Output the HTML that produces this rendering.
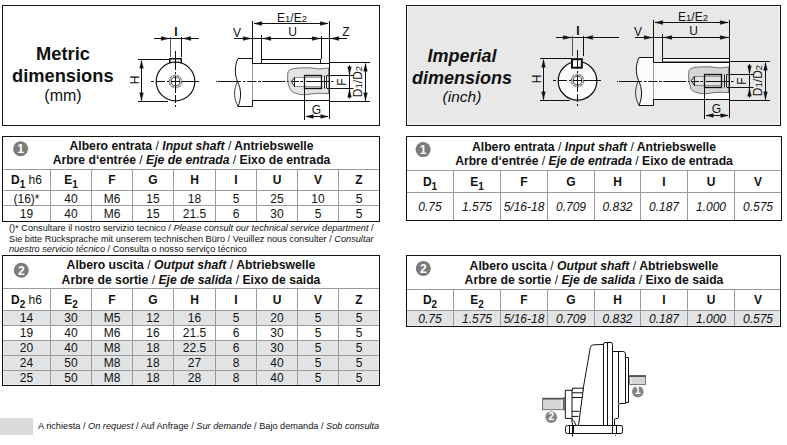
<!DOCTYPE html>
<html><head><meta charset="utf-8"><style>
html,body{margin:0;padding:0;background:#fff;}
body{width:787px;height:445px;position:relative;overflow:hidden;font-family:"Liberation Sans",sans-serif;}
.t{position:absolute;white-space:nowrap;line-height:20px;}
sub{font-size:10px;vertical-align:-4px;line-height:0;}
</style></head><body>
<div style='position:absolute;left:2px;top:5px;width:378px;height:121px;border:1px solid #141414;background:#fff;box-sizing:border-box'></div><div style='position:absolute;left:406px;top:5px;width:375px;height:121px;border:1px solid #141414;background:#e8e8e8;box-sizing:border-box;box-shadow:inset 0 0 0 1px #f4f4f4'></div>
<svg style="position:absolute;left:0;top:0" width="787" height="445" viewBox="0 0 787 445">
<line x1='170.5' y1='37' x2='170.5' y2='57' stroke='#555' stroke-width='1' /><line x1='181.5' y1='37' x2='181.5' y2='57' stroke='#111' stroke-width='1' /><line x1='154' y1='38.5' x2='199' y2='38.5' stroke='#111' stroke-width='1' /><path d='M169.2,38.5 L161.2,36.6 L161.2,40.4 Z' fill='#111' stroke='#111' stroke-width='0.3'/><path d='M182.8,38.5 L190.8,36.6 L190.8,40.4 Z' fill='#111' stroke='#111' stroke-width='0.3'/><line x1='138' y1='59.5' x2='170' y2='59.5' stroke='#111' stroke-width='1' /><line x1='138' y1='101.5' x2='168' y2='101.5' stroke='#111' stroke-width='1' /><line x1='141.5' y1='61' x2='141.5' y2='100.5' stroke='#111' stroke-width='1' /><path d='M141.5,60.3 L139.6,68.3 L143.4,68.3 Z' fill='#111' stroke='#111' stroke-width='0.3'/><path d='M141.5,100.7 L139.6,92.7 L143.4,92.7 Z' fill='#111' stroke='#111' stroke-width='0.3'/><circle cx='175.5' cy='81.5' r='19.3' fill='#fff' stroke='#111' stroke-width='1.2' /><path d='M169.75 63.3 L169.75 58.75 L181.25 58.75 L181.25 63.3' fill='none' stroke='#111' stroke-width='1.5' /><circle cx='175.5' cy='81.5' r='6.2' fill='none' stroke='#8a8a8a' stroke-width='1.5' stroke-dasharray='3,0.7'/><circle cx='175.5' cy='81.5' r='4.5' fill='none' stroke='#222' stroke-width='0.9' /><line x1='151' y1='81.5' x2='199' y2='81.5' stroke='#111' stroke-width='1' stroke-dasharray='3,2,9,2,2,2,9,1.5,30'/><line x1='175.5' y1='51' x2='175.5' y2='107' stroke='#111' stroke-width='1' stroke-dasharray='19,2,2,2,17,2,8,2,3'/><path d='M252.5 58.5 L238 58.5 C234.5 66 234.5 74 237.5 81.5 C241.5 90 241.5 98 238 106.5 L252.5 106.5 Z' fill='#ffffff' stroke='#111' stroke-width='1' /><path d='M237.5 81.5 C233.5 90 233.5 98 238 106.5' fill='none' stroke='#111' stroke-width='0.8' /><rect x='252.5' y='63.5' width='77.0' height='37' fill='#ffffff' stroke='none' stroke-width='1' /><line x1='252.5' y1='63.5' x2='329.5' y2='63.5' stroke='#111' stroke-width='1' /><line x1='252.5' y1='100.5' x2='329.5' y2='100.5' stroke='#111' stroke-width='1' /><line x1='252.5' y1='64' x2='252.5' y2='100' stroke='#999' stroke-width='1' /><rect x='261.5' y='59.5' width='59.0' height='4' fill='#ffffff' stroke='#111' stroke-width='1' /><path d='M288 71.5 C291 67.5 300 68 307 67.8 C313 67.5 318 69.5 322 68.8 C325 68.3 328 68 329 68 L329 93.5 C322 93.5 318 93 312 93.8 C306 95 302 95.2 297.5 93.8 C293 92.5 290 91 289.3 87 C287.5 83 287.3 77 288 71.5 Z' fill='#e4e4e4' stroke='#444' stroke-width='0.75' /><path d='M304.5 77.5 L294.5 77.5 L291.5 81.5 L294.5 86.5 L304.5 86.5 Z' fill='#ffffff' stroke='none' stroke-width='1' /><line x1='294.5' y1='77.5' x2='304.5' y2='77.5' stroke='#777' stroke-width='0.8' /><line x1='294.5' y1='86.5' x2='304.5' y2='86.5' stroke='#777' stroke-width='0.8' /><path d='M294.5 77.5 L291.3 81.5 L294.5 86.5 M294.5 77.2 L294.5 86.8' fill='none' stroke='#111' stroke-width='0.9' /><rect x='304.5' y='75.5' width='24.5' height='13' fill='#e4e4e4' stroke='none' stroke-width='1' /><rect x='304.5' y='77.5' width='24.5' height='9' fill='#ffffff' stroke='none' stroke-width='1' /><line x1='304.5' y1='77.3' x2='321.5' y2='77.3' stroke='#666' stroke-width='0.7' /><line x1='304.5' y1='86.7' x2='321.5' y2='86.7' stroke='#666' stroke-width='0.7' /><rect x='304.5' y='75.5' width='17.0' height='13' fill='none' stroke='#111' stroke-width='1.3' /><line x1='324.5' y1='75.5' x2='324.5' y2='88.5' stroke='#222' stroke-width='1' /><line x1='326.5' y1='75.5' x2='326.5' y2='88.5' stroke='#222' stroke-width='1' /><line x1='329.2' y1='68' x2='329.2' y2='93.5' stroke='#666' stroke-width='1.6' /><line x1='329.5' y1='21' x2='329.5' y2='119' stroke='#111' stroke-width='1' /><line x1='216' y1='81.5' x2='217' y2='81.5' stroke='#111' stroke-width='1' /><line x1='218' y1='81.5' x2='241' y2='81.5' stroke='#111' stroke-width='1' /><line x1='243' y1='81.5' x2='245.5' y2='81.5' stroke='#111' stroke-width='1' /><line x1='247.3' y1='81.5' x2='256.5' y2='81.5' stroke='#111' stroke-width='1' /><line x1='258' y1='81.5' x2='261' y2='81.5' stroke='#111' stroke-width='1' /><line x1='262.3' y1='81.5' x2='285.3' y2='81.5' stroke='#111' stroke-width='1' /><line x1='287' y1='81.5' x2='288.5' y2='81.5' stroke='#111' stroke-width='1' /><line x1='291.5' y1='81.5' x2='299' y2='81.5' stroke='#111' stroke-width='1' /><line x1='300.2' y1='81.5' x2='303' y2='81.5' stroke='#111' stroke-width='1' /><line x1='306' y1='81.5' x2='329' y2='81.5' stroke='#111' stroke-width='1' /><line x1='331' y1='81.5' x2='333.5' y2='81.5' stroke='#111' stroke-width='1' /><line x1='252.5' y1='21' x2='252.5' y2='63' stroke='#111' stroke-width='1' /><line x1='254' y1='23.5' x2='328.2' y2='23.5' stroke='#111' stroke-width='1' /><path d='M253.8,23.5 L261.8,21.6 L261.8,25.4 Z' fill='#111' stroke='#111' stroke-width='0.3'/><path d='M328.2,23.5 L320.2,21.6 L320.2,25.4 Z' fill='#111' stroke='#111' stroke-width='0.3'/><line x1='261.5' y1='35' x2='261.5' y2='63' stroke='#111' stroke-width='1' /><line x1='321.5' y1='36' x2='321.5' y2='59' stroke='#111' stroke-width='1' /><line x1='234' y1='38.5' x2='347' y2='38.5' stroke='#111' stroke-width='1' /><path d='M262.8,38.5 L270.8,36.6 L270.8,40.4 Z' fill='#111' stroke='#111' stroke-width='0.3'/><path d='M320.2,38.5 L312.2,36.6 L312.2,40.4 Z' fill='#111' stroke='#111' stroke-width='0.3'/><path d='M251.2,38.5 L243.2,36.6 L243.2,40.4 Z' fill='#111' stroke='#111' stroke-width='0.3'/><path d='M330.8,38.5 L338.8,36.6 L338.8,40.4 Z' fill='#111' stroke='#111' stroke-width='0.3'/><line x1='327' y1='75.5' x2='353.5' y2='75.5' stroke='#111' stroke-width='1' /><line x1='327' y1='88.5' x2='353.5' y2='88.5' stroke='#111' stroke-width='1' /><line x1='349.5' y1='65' x2='349.5' y2='98.5' stroke='#111' stroke-width='1' /><path d='M349.5,74.7 L347.6,66.7 L351.4,66.7 Z' fill='#111' stroke='#111' stroke-width='0.3'/><path d='M349.5,89.3 L347.6,97.3 L351.4,97.3 Z' fill='#111' stroke='#111' stroke-width='0.3'/><line x1='330' y1='62.5' x2='370' y2='62.5' stroke='#111' stroke-width='1' /><line x1='330' y1='101.5' x2='370' y2='101.5' stroke='#111' stroke-width='1' /><line x1='365.5' y1='64' x2='365.5' y2='100.5' stroke='#111' stroke-width='1' /><path d='M365.5,63.3 L363.6,71.3 L367.4,71.3 Z' fill='#111' stroke='#111' stroke-width='0.3'/><path d='M365.5,100.7 L363.6,92.7 L367.4,92.7 Z' fill='#111' stroke='#111' stroke-width='0.3'/><line x1='304.5' y1='88' x2='304.5' y2='120' stroke='#111' stroke-width='1' /><line x1='306' y1='116.5' x2='328' y2='116.5' stroke='#111' stroke-width='1' /><path d='M305.8,116.5 L313.3,114.6 L313.3,118.4 Z' fill='#111' stroke='#111' stroke-width='0.3'/><path d='M328.2,116.5 L320.7,114.6 L320.7,118.4 Z' fill='#111' stroke='#111' stroke-width='0.3'/><line x1='572.5' y1='36' x2='572.5' y2='56' stroke='#555' stroke-width='1' /><line x1='583.5' y1='36' x2='583.5' y2='56' stroke='#111' stroke-width='1' /><line x1='556' y1='37.5' x2='619' y2='37.5' stroke='#111' stroke-width='1' /><path d='M571.2,37.5 L563.2,35.6 L563.2,39.4 Z' fill='#111' stroke='#111' stroke-width='0.3'/><path d='M584.8,37.5 L592.8,35.6 L592.8,39.4 Z' fill='#111' stroke='#111' stroke-width='0.3'/><line x1='540' y1='58.5' x2='572' y2='58.5' stroke='#111' stroke-width='1' /><line x1='540' y1='100.5' x2='570' y2='100.5' stroke='#111' stroke-width='1' /><line x1='543.5' y1='60' x2='543.5' y2='99.5' stroke='#111' stroke-width='1' /><path d='M543.5,59.3 L541.6,67.3 L545.4,67.3 Z' fill='#111' stroke='#111' stroke-width='0.3'/><path d='M543.5,99.7 L541.6,91.7 L545.4,91.7 Z' fill='#111' stroke='#111' stroke-width='0.3'/><circle cx='577.5' cy='80.9' r='19.3' fill='#fcfcfc' stroke='#111' stroke-width='1.2' /><rect x='572' y='59.2' width='9.8' height='8.5' fill='#fcfcfc' stroke='#111' stroke-width='2' /><line x1='577.5' y1='59' x2='577.5' y2='68' stroke='#111' stroke-width='1' /><circle cx='577.5' cy='80.5' r='6.2' fill='none' stroke='#8a8a8a' stroke-width='1.5' stroke-dasharray='3,0.7'/><circle cx='577.5' cy='80.5' r='4.5' fill='none' stroke='#222' stroke-width='0.9' /><line x1='553' y1='80.5' x2='601' y2='80.5' stroke='#111' stroke-width='1' stroke-dasharray='3,2,9,2,2,2,9,1.5,30'/><line x1='577.5' y1='50' x2='577.5' y2='106' stroke='#111' stroke-width='1' stroke-dasharray='19,2,2,2,17,2,8,2,3'/><path d='M653.5 57.5 L639 57.5 C635.5 65 635.5 73 638.5 80.5 C642.5 89 642.5 97 639 105.5 L653.5 105.5 Z' fill='#fcfcfc' stroke='#111' stroke-width='1' /><path d='M638.5 80.5 C634.5 89 634.5 97 639 105.5' fill='none' stroke='#111' stroke-width='0.8' /><rect x='653.5' y='62.5' width='76.0' height='37' fill='#fcfcfc' stroke='none' stroke-width='1' /><line x1='653.5' y1='62.5' x2='729.5' y2='62.5' stroke='#111' stroke-width='1' /><line x1='653.5' y1='99.5' x2='729.5' y2='99.5' stroke='#111' stroke-width='1' /><line x1='653.5' y1='63' x2='653.5' y2='99' stroke='#999' stroke-width='1' /><rect x='653.5' y='36' width='9.0' height='22' fill='#f0f0f0' stroke='none' stroke-width='1' /><rect x='662.5' y='58.5' width='67.0' height='3.5' fill='#fcfcfc' stroke='#111' stroke-width='1' /><path d='M689 70.5 C691 66.5 700 67 707 66.8 C713 66.5 718 68.5 722 67.8 C725 67.3 728 67 729 67 L729 92.5 C722 92.5 718 92 712 92.8 C706 94 702 94.2 697.5 92.8 C693 91.5 690 90 690.3 86 C688.5 82 688.3 76 689 70.5 Z' fill='#d6d6d6' stroke='#444' stroke-width='0.75' /><path d='M704.5 76.5 L694.5 76.5 L691.5 80.5 L694.5 85.5 L704.5 85.5 Z' fill='#e2e2e2' stroke='none' stroke-width='1' /><line x1='694.5' y1='76.5' x2='704.5' y2='76.5' stroke='#777' stroke-width='0.8' /><line x1='694.5' y1='85.5' x2='704.5' y2='85.5' stroke='#777' stroke-width='0.8' /><path d='M694.5 76.5 L691.3 80.5 L694.5 85.5 M694.5 76.2 L694.5 85.8' fill='none' stroke='#111' stroke-width='0.9' /><rect x='704.5' y='74.5' width='24.5' height='13' fill='#d6d6d6' stroke='none' stroke-width='1' /><rect x='704.5' y='76.5' width='24.5' height='9' fill='#e2e2e2' stroke='none' stroke-width='1' /><line x1='704.5' y1='76.3' x2='721.5' y2='76.3' stroke='#666' stroke-width='0.7' /><line x1='704.5' y1='85.7' x2='721.5' y2='85.7' stroke='#666' stroke-width='0.7' /><rect x='704.5' y='74.5' width='17.0' height='13' fill='none' stroke='#111' stroke-width='1.3' /><line x1='724.5' y1='74.5' x2='724.5' y2='87.5' stroke='#222' stroke-width='1' /><line x1='726.5' y1='74.5' x2='726.5' y2='87.5' stroke='#222' stroke-width='1' /><line x1='729.2' y1='67' x2='729.2' y2='92.5' stroke='#666' stroke-width='1.6' /><line x1='729.5' y1='20' x2='729.5' y2='118' stroke='#111' stroke-width='1' /><line x1='617' y1='81.5' x2='618' y2='81.5' stroke='#111' stroke-width='1' /><line x1='619' y1='81.5' x2='642' y2='81.5' stroke='#111' stroke-width='1' /><line x1='644' y1='81.5' x2='646.5' y2='81.5' stroke='#111' stroke-width='1' /><line x1='648.3' y1='81.5' x2='657.5' y2='81.5' stroke='#111' stroke-width='1' /><line x1='659' y1='81.5' x2='662' y2='81.5' stroke='#111' stroke-width='1' /><line x1='663.3' y1='81.5' x2='686.3' y2='81.5' stroke='#111' stroke-width='1' /><line x1='688' y1='81.5' x2='689.5' y2='81.5' stroke='#111' stroke-width='1' /><line x1='691.5' y1='81.5' x2='699' y2='81.5' stroke='#111' stroke-width='1' /><line x1='700.2' y1='81.5' x2='703' y2='81.5' stroke='#111' stroke-width='1' /><line x1='706' y1='81.5' x2='729' y2='81.5' stroke='#111' stroke-width='1' /><line x1='731' y1='81.5' x2='733.5' y2='81.5' stroke='#111' stroke-width='1' /><line x1='653.5' y1='20' x2='653.5' y2='62' stroke='#111' stroke-width='1' /><line x1='655' y1='22.5' x2='728.2' y2='22.5' stroke='#111' stroke-width='1' /><path d='M654.8,22.5 L662.8,20.6 L662.8,24.4 Z' fill='#111' stroke='#111' stroke-width='0.3'/><path d='M728.2,22.5 L720.2,20.6 L720.2,24.4 Z' fill='#111' stroke='#111' stroke-width='0.3'/><line x1='662.5' y1='34' x2='662.5' y2='62' stroke='#111' stroke-width='1' /><line x1='635' y1='37.5' x2='729.5' y2='37.5' stroke='#111' stroke-width='1' /><path d='M663.8,37.5 L671.8,35.6 L671.8,39.4 Z' fill='#111' stroke='#111' stroke-width='0.3'/><path d='M728.2,37.5 L720.2,35.6 L720.2,39.4 Z' fill='#111' stroke='#111' stroke-width='0.3'/><path d='M652.2,37.5 L644.2,35.6 L644.2,39.4 Z' fill='#111' stroke='#111' stroke-width='0.3'/><line x1='727' y1='74.5' x2='753.5' y2='74.5' stroke='#111' stroke-width='1' /><line x1='727' y1='87.5' x2='753.5' y2='87.5' stroke='#111' stroke-width='1' /><line x1='749.5' y1='64' x2='749.5' y2='97.5' stroke='#111' stroke-width='1' /><path d='M749.5,73.7 L747.6,65.7 L751.4,65.7 Z' fill='#111' stroke='#111' stroke-width='0.3'/><path d='M749.5,88.3 L747.6,96.3 L751.4,96.3 Z' fill='#111' stroke='#111' stroke-width='0.3'/><line x1='730' y1='61.5' x2='770' y2='61.5' stroke='#111' stroke-width='1' /><line x1='730' y1='100.5' x2='770' y2='100.5' stroke='#111' stroke-width='1' /><line x1='765.5' y1='63' x2='765.5' y2='99.5' stroke='#111' stroke-width='1' /><path d='M765.5,62.3 L763.6,70.3 L767.4,70.3 Z' fill='#111' stroke='#111' stroke-width='0.3'/><path d='M765.5,99.7 L763.6,91.7 L767.4,91.7 Z' fill='#111' stroke='#111' stroke-width='0.3'/><line x1='704.5' y1='87' x2='704.5' y2='119' stroke='#111' stroke-width='1' /><line x1='706' y1='115.5' x2='728' y2='115.5' stroke='#111' stroke-width='1' /><path d='M705.8,115.5 L713.3,113.6 L713.3,117.4 Z' fill='#111' stroke='#111' stroke-width='0.3'/><path d='M728.2,115.5 L720.7,113.6 L720.7,117.4 Z' fill='#111' stroke='#111' stroke-width='0.3'/><line x1='2' y1='169.5' x2='380' y2='169.5' stroke='#9a9a9a' stroke-width='1' /><line x1='2' y1='190.5' x2='380' y2='190.5' stroke='#9a9a9a' stroke-width='1' /><line x1='2' y1='205.5' x2='380' y2='205.5' stroke='#9a9a9a' stroke-width='1' /><line x1='50.5' y1='169' x2='50.5' y2='222' stroke='#9a9a9a' stroke-width='1' /><line x1='91.5' y1='169' x2='91.5' y2='222' stroke='#9a9a9a' stroke-width='1' /><line x1='132.5' y1='169' x2='132.5' y2='222' stroke='#9a9a9a' stroke-width='1' /><line x1='173.5' y1='169' x2='173.5' y2='222' stroke='#9a9a9a' stroke-width='1' /><line x1='215.5' y1='169' x2='215.5' y2='222' stroke='#9a9a9a' stroke-width='1' /><line x1='256.5' y1='169' x2='256.5' y2='222' stroke='#9a9a9a' stroke-width='1' /><line x1='297.5' y1='169' x2='297.5' y2='222' stroke='#9a9a9a' stroke-width='1' /><line x1='338.5' y1='169' x2='338.5' y2='222' stroke='#9a9a9a' stroke-width='1' /><rect x='2.5' y='136.5' width='377' height='85' fill='none' stroke='#111' stroke-width='1' /><circle cx='20.6' cy='148.7' r='7.5' fill='#7b7b7b' stroke='none' stroke-width='1' /><rect x='3' y='311' width='376' height='14' fill='#e2e3e5' stroke='none' stroke-width='1' /><rect x='3' y='311' width='1' height='14' fill='#ececed' stroke='none' stroke-width='1' /><rect x='378' y='311' width='1' height='14' fill='#ececed' stroke='none' stroke-width='1' /><rect x='3' y='341' width='376' height='44' fill='#e2e3e5' stroke='none' stroke-width='1' /><rect x='3' y='341' width='1' height='44' fill='#ececed' stroke='none' stroke-width='1' /><rect x='378' y='341' width='1' height='44' fill='#ececed' stroke='none' stroke-width='1' /><rect x='3' y='384' width='376' height='1' fill='#ececed' stroke='none' stroke-width='1' /><line x1='2' y1='288.5' x2='380' y2='288.5' stroke='#9a9a9a' stroke-width='1' /><line x1='2' y1='310.5' x2='380' y2='310.5' stroke='#9a9a9a' stroke-width='1' /><line x1='2' y1='325.5' x2='380' y2='325.5' stroke='#9a9a9a' stroke-width='1' /><line x1='2' y1='340.5' x2='380' y2='340.5' stroke='#9a9a9a' stroke-width='1' /><line x1='2' y1='355.5' x2='380' y2='355.5' stroke='#9a9a9a' stroke-width='1' /><line x1='2' y1='370.5' x2='380' y2='370.5' stroke='#9a9a9a' stroke-width='1' /><line x1='50.5' y1='288' x2='50.5' y2='386' stroke='#9a9a9a' stroke-width='1' /><line x1='91.5' y1='288' x2='91.5' y2='386' stroke='#9a9a9a' stroke-width='1' /><line x1='132.5' y1='288' x2='132.5' y2='386' stroke='#9a9a9a' stroke-width='1' /><line x1='173.5' y1='288' x2='173.5' y2='386' stroke='#9a9a9a' stroke-width='1' /><line x1='215.5' y1='288' x2='215.5' y2='386' stroke='#9a9a9a' stroke-width='1' /><line x1='256.5' y1='288' x2='256.5' y2='386' stroke='#9a9a9a' stroke-width='1' /><line x1='297.5' y1='288' x2='297.5' y2='386' stroke='#9a9a9a' stroke-width='1' /><line x1='338.5' y1='288' x2='338.5' y2='386' stroke='#9a9a9a' stroke-width='1' /><rect x='2.5' y='255.5' width='377' height='130' fill='none' stroke='#111' stroke-width='1' /><circle cx='21.3' cy='270.2' r='7.5' fill='#7b7b7b' stroke='none' stroke-width='1' /><rect x='0' y='418' width='33' height='17' fill='#d9d9d9' stroke='none' stroke-width='1' /><line x1='406' y1='170.5' x2='782' y2='170.5' stroke='#9a9a9a' stroke-width='1' /><line x1='406' y1='192.5' x2='782' y2='192.5' stroke='#9a9a9a' stroke-width='1' /><line x1='453.5' y1='170' x2='453.5' y2='221' stroke='#9a9a9a' stroke-width='1' /><line x1='500.5' y1='170' x2='500.5' y2='221' stroke='#9a9a9a' stroke-width='1' /><line x1='547.5' y1='170' x2='547.5' y2='221' stroke='#9a9a9a' stroke-width='1' /><line x1='594.5' y1='170' x2='594.5' y2='221' stroke='#9a9a9a' stroke-width='1' /><line x1='640.5' y1='170' x2='640.5' y2='221' stroke='#9a9a9a' stroke-width='1' /><line x1='687.5' y1='170' x2='687.5' y2='221' stroke='#9a9a9a' stroke-width='1' /><line x1='734.5' y1='170' x2='734.5' y2='221' stroke='#9a9a9a' stroke-width='1' /><rect x='406.5' y='136.5' width='375' height='84' fill='none' stroke='#111' stroke-width='1' /><circle cx='423.1' cy='149.6' r='7.5' fill='#7b7b7b' stroke='none' stroke-width='1' /><rect x='407' y='311' width='373' height='15' fill='#e2e3e5' stroke='none' stroke-width='1' /><rect x='407' y='311' width='1' height='15' fill='#ececed' stroke='none' stroke-width='1' /><rect x='779' y='311' width='1' height='15' fill='#ececed' stroke='none' stroke-width='1' /><rect x='407' y='325' width='373' height='1' fill='#ececed' stroke='none' stroke-width='1' /><line x1='406' y1='289.5' x2='781' y2='289.5' stroke='#9a9a9a' stroke-width='1' /><line x1='406' y1='310.5' x2='781' y2='310.5' stroke='#9a9a9a' stroke-width='1' /><line x1='453.5' y1='289' x2='453.5' y2='327' stroke='#9a9a9a' stroke-width='1' /><line x1='500.5' y1='289' x2='500.5' y2='327' stroke='#9a9a9a' stroke-width='1' /><line x1='547.5' y1='289' x2='547.5' y2='327' stroke='#9a9a9a' stroke-width='1' /><line x1='594.5' y1='289' x2='594.5' y2='327' stroke='#9a9a9a' stroke-width='1' /><line x1='640.5' y1='289' x2='640.5' y2='327' stroke='#9a9a9a' stroke-width='1' /><line x1='687.5' y1='289' x2='687.5' y2='327' stroke='#9a9a9a' stroke-width='1' /><line x1='734.5' y1='289' x2='734.5' y2='327' stroke='#9a9a9a' stroke-width='1' /><rect x='406.5' y='255.5' width='374' height='71' fill='none' stroke='#111' stroke-width='1' /><circle cx='423.3' cy='268.4' r='7.5' fill='#7b7b7b' stroke='none' stroke-width='1' /><rect x='629.5' y='375.5' width='16' height='9' fill='#d4d4d4' stroke='#6a6a6a' stroke-width='0.9' /><line x1='629.5' y1='376.2' x2='645.5' y2='376.2' stroke='#555' stroke-width='1.6' /><rect x='629.9' y='377' width='1.4' height='7' fill='#f0f0f0' stroke='none' stroke-width='1' /><path d='M603.5 344.5 L593.2 344.8 Q590.8 345.3 590.3 347.6 L576.8 425.5 L603.5 425.5 Z' fill='#fff' stroke='#111' stroke-width='1' /><path d='M603.5 425.5 L603.5 344 Q603.7 342.5 605.2 342.5 L611.2 342.5 Q612.5 342.7 612.5 344.2 L612.5 425.5' fill='#fff' stroke='#111' stroke-width='1' /><line x1='607.5' y1='342.5' x2='607.5' y2='425.5' stroke='#111' stroke-width='1' /><path d='M612.5 351.5 L623.2 351.5 Q625.5 351.6 625.5 354.2 L625.5 357.5 L628.5 357.5 L628.5 402.5 L625.5 402.5 L625.5 403.5 L619.8 403.5 Q618.5 403.6 618.5 405 L618.5 417.6 Q618.4 418.5 617 418.5 L615.6 418.5 Q614.5 418.7 614.5 420 L614.5 425.5 L612.5 425.5 Z' fill='#fff' stroke='#111' stroke-width='1' /><line x1='618.5' y1='351.5' x2='618.5' y2='403.5' stroke='#111' stroke-width='1' /><line x1='625.5' y1='357.5' x2='625.5' y2='402.5' stroke='#111' stroke-width='1' /><path d='M583.4 388.2 L572.4 388.2 L572.4 390.3 L565.3 390.3 L565.3 418.4 L571.6 418.4 Q573.5 420.5 574.5 422 L576.2 425.5 L578.5 425.5 Z' fill='#fff' stroke='#111' stroke-width='1' /><line x1='572.0' y1='390.3' x2='572.0' y2='423' stroke='#111' stroke-width='1' /><line x1='572.0' y1='392.8' x2='582.6' y2='392.8' stroke='#111' stroke-width='1' /><line x1='572.0' y1='397.5' x2='581.8' y2='397.5' stroke='#111' stroke-width='1' /><line x1='572.0' y1='411.3' x2='579.4' y2='411.3' stroke='#111' stroke-width='1' /><line x1='572.0' y1='416.4' x2='578.5' y2='416.4' stroke='#111' stroke-width='1' /><rect x='542.5' y='398.2' width='20.5' height='11.5' fill='#d6d6d6' stroke='#6a6a6a' stroke-width='0.9' /><line x1='543' y1='398.8' x2='563' y2='398.8' stroke='#555' stroke-width='1.6' /><rect x='561.2' y='399.5' width='1.6' height='9.6' fill='#eeeeee' stroke='none' stroke-width='1' /><rect x='563.2' y='397' width='1.4' height='13.3' fill='#444' stroke='none' stroke-width='1' /><path d='M567.5 425.5 L621 425.5 Q622.5 425.5 622.5 427.5 L622.5 431.5 Q622.5 433.5 621 433.5 L567.5 433.5 Q565.5 433.5 565.5 431.5 L565.5 427.5 Q565.5 425.5 567.5 425.5 Z' fill='#fff' stroke='#111' stroke-width='1' /><line x1='569.5' y1='425.5' x2='569.5' y2='433.5' stroke='#111' stroke-width='1' /><line x1='573.5' y1='425.5' x2='573.5' y2='433.5' stroke='#111' stroke-width='1' /><line x1='612.5' y1='425.5' x2='612.5' y2='433.5' stroke='#111' stroke-width='1' /><line x1='616.5' y1='425.5' x2='616.5' y2='433.5' stroke='#111' stroke-width='1' /><line x1='572.5' y1='423' x2='572.5' y2='436.6' stroke='#111' stroke-width='1' /><rect x='615' y='435' width='1' height='1' fill='#333' stroke='none' stroke-width='1' /><circle cx='637.8' cy='391.7' r='5.8' fill='#858585' stroke='none' stroke-width='1' /><circle cx='551.2' cy='417.1' r='5.9' fill='#858585' stroke='none' stroke-width='1' />
</svg>
<div class='t' style='left:-137px;width:400px;text-align:center;top:44px;font-size:18.3px;font-weight:bold;font-style:normal;color:#111;'>Metric</div><div class='t' style='left:-137.2px;width:400px;text-align:center;top:66px;font-size:18.3px;font-weight:bold;font-style:normal;color:#111;'>dimensions</div><div class='t' style='left:-137px;width:400px;text-align:center;top:86px;font-size:16px;font-weight:normal;font-style:normal;color:#111;'>(mm)</div><div class='t' style='left:262px;width:400px;text-align:center;top:46px;font-size:18px;font-weight:bold;font-style:italic;color:#111;'>Imperial</div><div class='t' style='left:262px;width:400px;text-align:center;top:68px;font-size:18px;font-weight:bold;font-style:italic;color:#111;'>dimensions</div><div class='t' style='left:262px;width:400px;text-align:center;top:87px;font-size:15.5px;font-weight:normal;font-style:italic;color:#111;'>(inch)</div><div class='t' style='left:-24.19999999999999px;width:400px;text-align:center;top:22px;font-size:12px;font-weight:bold;font-style:normal;color:#111;'>I</div><div class='t' style='left:115.30000000000001px;width:40px;text-align:center;top:69.5px;font-size:12px;line-height:20px;transform:rotate(-90deg);color:#111'>H</div><div class='t' style='left:277px;top:8px;font-size:12px;color:#111'>E<span style='font-size:9.5px'>1</span>/E<span style='font-size:9.5px'>2</span></div><div class='t' style='left:92.60000000000002px;width:400px;text-align:center;top:22px;font-size:12px;font-weight:normal;font-style:normal;color:#111;'>U</div><div class='t' style='left:37px;width:400px;text-align:center;top:22.5px;font-size:12px;font-weight:normal;font-style:normal;color:#111;'>V</div><div class='t' style='left:146px;width:400px;text-align:center;top:22px;font-size:12px;font-weight:normal;font-style:normal;color:#111;'>Z</div><div class='t' style='left:322.2px;width:40px;text-align:center;top:71.5px;font-size:12px;line-height:20px;transform:rotate(-90deg);color:#111'>F</div><div class='t' style='left:327.6px;width:60px;text-align:center;top:71.2px;font-size:12px;line-height:20px;transform:rotate(-90deg);color:#111'>D<span style='font-size:9.5px'>1</span>/D<span style='font-size:9.5px'>2</span></div><div class='t' style='left:116.5px;width:400px;text-align:center;top:100px;font-size:12px;font-weight:normal;font-style:normal;color:#111;'>G</div><div class='t' style='left:377.79999999999995px;width:400px;text-align:center;top:21px;font-size:12px;font-weight:bold;font-style:normal;color:#111;'>I</div><div class='t' style='left:517.3px;width:40px;text-align:center;top:68.5px;font-size:12px;line-height:20px;transform:rotate(-90deg);color:#111'>H</div><div class='t' style='left:678px;top:7px;font-size:12px;color:#111'>E<span style='font-size:9.5px'>1</span>/E<span style='font-size:9.5px'>2</span></div><div class='t' style='left:493.5px;width:400px;text-align:center;top:21px;font-size:12px;font-weight:normal;font-style:normal;color:#111;'>U</div><div class='t' style='left:438px;width:400px;text-align:center;top:21.5px;font-size:12px;font-weight:normal;font-style:normal;color:#111;'>V</div><div class='t' style='left:722.2px;width:40px;text-align:center;top:70.5px;font-size:12px;line-height:20px;transform:rotate(-90deg);color:#111'>F</div><div class='t' style='left:727.6px;width:60px;text-align:center;top:70.2px;font-size:12px;line-height:20px;transform:rotate(-90deg);color:#111'>D<span style='font-size:9.5px'>1</span>/D<span style='font-size:9.5px'>2</span></div><div class='t' style='left:516.5px;width:400px;text-align:center;top:99px;font-size:12px;font-weight:normal;font-style:normal;color:#111;'>G</div><div class='t' style='left:10.600000000000001px;width:20px;text-align:center;top:139.0px;font-size:12px;font-weight:bold;color:#fff'>1</div><div class='t' style='left:-8.5px;width:400px;text-align:center;top:136px;font-size:12.2px;font-weight:bold;font-style:normal;color:#111;'>Albero entrata <span style="font-weight:normal">/</span> <i>Input shaft</i> <span style="font-weight:normal">/</span> Antriebswelle</div><div class='t' style='left:-8.5px;width:400px;text-align:center;top:150px;font-size:12.2px;font-weight:bold;font-style:normal;color:#111;'>Arbre d&lsquo;entrée <span style="font-weight:normal">/</span> <i>Eje de entrada</i> <span style="font-weight:normal">/</span> Eixo de entrada</div><div class='t' style='left:-173.5px;width:400px;text-align:center;top:170px;font-size:12px;font-weight:bold;font-style:normal;color:#111;'>D<sub>1</sub> <span style='font-weight:normal'>h6</span></div><div class='t' style='left:-129.0px;width:400px;text-align:center;top:170px;font-size:12px;font-weight:bold;font-style:normal;color:#111;'>E<sub>1</sub></div><div class='t' style='left:-88.0px;width:400px;text-align:center;top:170px;font-size:12px;font-weight:bold;font-style:normal;color:#111;'>F</div><div class='t' style='left:-47.0px;width:400px;text-align:center;top:170px;font-size:12px;font-weight:bold;font-style:normal;color:#111;'>G</div><div class='t' style='left:-5.5px;width:400px;text-align:center;top:170px;font-size:12px;font-weight:bold;font-style:normal;color:#111;'>H</div><div class='t' style='left:36.0px;width:400px;text-align:center;top:170px;font-size:12px;font-weight:bold;font-style:normal;color:#111;'>I</div><div class='t' style='left:77.0px;width:400px;text-align:center;top:170px;font-size:12px;font-weight:bold;font-style:normal;color:#111;'>U</div><div class='t' style='left:118.0px;width:400px;text-align:center;top:170px;font-size:12px;font-weight:bold;font-style:normal;color:#111;'>V</div><div class='t' style='left:159.0px;width:400px;text-align:center;top:170px;font-size:12px;font-weight:bold;font-style:normal;color:#111;'>Z</div><div class='t' style='left:-173.5px;width:400px;text-align:center;top:189px;font-size:12px;font-weight:normal;font-style:normal;color:#111;'>(16)*</div><div class='t' style='left:-129.0px;width:400px;text-align:center;top:189px;font-size:12px;font-weight:normal;font-style:normal;color:#111;'>40</div><div class='t' style='left:-88.0px;width:400px;text-align:center;top:189px;font-size:12px;font-weight:normal;font-style:normal;color:#111;'>M6</div><div class='t' style='left:-47.0px;width:400px;text-align:center;top:189px;font-size:12px;font-weight:normal;font-style:normal;color:#111;'>15</div><div class='t' style='left:-5.5px;width:400px;text-align:center;top:189px;font-size:12px;font-weight:normal;font-style:normal;color:#111;'>18</div><div class='t' style='left:36.0px;width:400px;text-align:center;top:189px;font-size:12px;font-weight:normal;font-style:normal;color:#111;'>5</div><div class='t' style='left:77.0px;width:400px;text-align:center;top:189px;font-size:12px;font-weight:normal;font-style:normal;color:#111;'>25</div><div class='t' style='left:118.0px;width:400px;text-align:center;top:189px;font-size:12px;font-weight:normal;font-style:normal;color:#111;'>10</div><div class='t' style='left:159.0px;width:400px;text-align:center;top:189px;font-size:12px;font-weight:normal;font-style:normal;color:#111;'>5</div><div class='t' style='left:-173.5px;width:400px;text-align:center;top:204px;font-size:12px;font-weight:normal;font-style:normal;color:#111;'>19</div><div class='t' style='left:-129.0px;width:400px;text-align:center;top:204px;font-size:12px;font-weight:normal;font-style:normal;color:#111;'>40</div><div class='t' style='left:-88.0px;width:400px;text-align:center;top:204px;font-size:12px;font-weight:normal;font-style:normal;color:#111;'>M6</div><div class='t' style='left:-47.0px;width:400px;text-align:center;top:204px;font-size:12px;font-weight:normal;font-style:normal;color:#111;'>15</div><div class='t' style='left:-5.5px;width:400px;text-align:center;top:204px;font-size:12px;font-weight:normal;font-style:normal;color:#111;'>21.5</div><div class='t' style='left:36.0px;width:400px;text-align:center;top:204px;font-size:12px;font-weight:normal;font-style:normal;color:#111;'>6</div><div class='t' style='left:77.0px;width:400px;text-align:center;top:204px;font-size:12px;font-weight:normal;font-style:normal;color:#111;'>30</div><div class='t' style='left:118.0px;width:400px;text-align:center;top:204px;font-size:12px;font-weight:normal;font-style:normal;color:#111;'>5</div><div class='t' style='left:159.0px;width:400px;text-align:center;top:204px;font-size:12px;font-weight:normal;font-style:normal;color:#111;'>5</div><div class='t' style='left:9px;top:218px;font-size:9.2px;font-weight:normal;font-style:normal;color:#111;'>()* Consultare il nostro servizio tecnico / <i>Please consult our technical service department</i> /</div><div class='t' style='left:9px;top:229px;font-size:9.2px;font-weight:normal;font-style:normal;color:#111;'>Sie bitte Rücksprache mit unserem technischen Büro / Veuillez nous consulter / <i>Consultar</i></div><div class='t' style='left:9px;top:239px;font-size:9.2px;font-weight:normal;font-style:normal;color:#111;'><i>nuestro servicio técnico</i> / Consulta o nosso serviço técnico</div><div class='t' style='left:11.3px;width:20px;text-align:center;top:260.5px;font-size:12px;font-weight:bold;color:#fff'>2</div><div class='t' style='left:-9px;width:400px;text-align:center;top:255px;font-size:12.2px;font-weight:bold;font-style:normal;color:#111;'>Albero uscita <span style="font-weight:normal">/</span> <i>Output shaft</i> <span style="font-weight:normal">/</span> Abtriebswelle</div><div class='t' style='left:-9px;width:400px;text-align:center;top:270px;font-size:12.2px;font-weight:bold;font-style:normal;color:#111;'>Arbre de sortie <span style="font-weight:normal">/</span> <i>Eje de salida</i> <span style="font-weight:normal">/</span> Eixo de saida</div><div class='t' style='left:-173.5px;width:400px;text-align:center;top:290px;font-size:12px;font-weight:bold;font-style:normal;color:#111;'>D<sub>2</sub> <span style='font-weight:normal'>h6</span></div><div class='t' style='left:-129.0px;width:400px;text-align:center;top:290px;font-size:12px;font-weight:bold;font-style:normal;color:#111;'>E<sub>2</sub></div><div class='t' style='left:-88.0px;width:400px;text-align:center;top:290px;font-size:12px;font-weight:bold;font-style:normal;color:#111;'>F</div><div class='t' style='left:-47.0px;width:400px;text-align:center;top:290px;font-size:12px;font-weight:bold;font-style:normal;color:#111;'>G</div><div class='t' style='left:-5.5px;width:400px;text-align:center;top:290px;font-size:12px;font-weight:bold;font-style:normal;color:#111;'>H</div><div class='t' style='left:36.0px;width:400px;text-align:center;top:290px;font-size:12px;font-weight:bold;font-style:normal;color:#111;'>I</div><div class='t' style='left:77.0px;width:400px;text-align:center;top:290px;font-size:12px;font-weight:bold;font-style:normal;color:#111;'>U</div><div class='t' style='left:118.0px;width:400px;text-align:center;top:290px;font-size:12px;font-weight:bold;font-style:normal;color:#111;'>V</div><div class='t' style='left:159.0px;width:400px;text-align:center;top:290px;font-size:12px;font-weight:bold;font-style:normal;color:#111;'>Z</div><div class='t' style='left:-173.5px;width:400px;text-align:center;top:308px;font-size:12px;font-weight:normal;font-style:normal;color:#111;'>14</div><div class='t' style='left:-129.0px;width:400px;text-align:center;top:308px;font-size:12px;font-weight:normal;font-style:normal;color:#111;'>30</div><div class='t' style='left:-88.0px;width:400px;text-align:center;top:308px;font-size:12px;font-weight:normal;font-style:normal;color:#111;'>M5</div><div class='t' style='left:-47.0px;width:400px;text-align:center;top:308px;font-size:12px;font-weight:normal;font-style:normal;color:#111;'>12</div><div class='t' style='left:-5.5px;width:400px;text-align:center;top:308px;font-size:12px;font-weight:normal;font-style:normal;color:#111;'>16</div><div class='t' style='left:36.0px;width:400px;text-align:center;top:308px;font-size:12px;font-weight:normal;font-style:normal;color:#111;'>5</div><div class='t' style='left:77.0px;width:400px;text-align:center;top:308px;font-size:12px;font-weight:normal;font-style:normal;color:#111;'>20</div><div class='t' style='left:118.0px;width:400px;text-align:center;top:308px;font-size:12px;font-weight:normal;font-style:normal;color:#111;'>5</div><div class='t' style='left:159.0px;width:400px;text-align:center;top:308px;font-size:12px;font-weight:normal;font-style:normal;color:#111;'>5</div><div class='t' style='left:-173.5px;width:400px;text-align:center;top:323px;font-size:12px;font-weight:normal;font-style:normal;color:#111;'>19</div><div class='t' style='left:-129.0px;width:400px;text-align:center;top:323px;font-size:12px;font-weight:normal;font-style:normal;color:#111;'>40</div><div class='t' style='left:-88.0px;width:400px;text-align:center;top:323px;font-size:12px;font-weight:normal;font-style:normal;color:#111;'>M6</div><div class='t' style='left:-47.0px;width:400px;text-align:center;top:323px;font-size:12px;font-weight:normal;font-style:normal;color:#111;'>16</div><div class='t' style='left:-5.5px;width:400px;text-align:center;top:323px;font-size:12px;font-weight:normal;font-style:normal;color:#111;'>21.5</div><div class='t' style='left:36.0px;width:400px;text-align:center;top:323px;font-size:12px;font-weight:normal;font-style:normal;color:#111;'>6</div><div class='t' style='left:77.0px;width:400px;text-align:center;top:323px;font-size:12px;font-weight:normal;font-style:normal;color:#111;'>30</div><div class='t' style='left:118.0px;width:400px;text-align:center;top:323px;font-size:12px;font-weight:normal;font-style:normal;color:#111;'>5</div><div class='t' style='left:159.0px;width:400px;text-align:center;top:323px;font-size:12px;font-weight:normal;font-style:normal;color:#111;'>5</div><div class='t' style='left:-173.5px;width:400px;text-align:center;top:338px;font-size:12px;font-weight:normal;font-style:normal;color:#111;'>20</div><div class='t' style='left:-129.0px;width:400px;text-align:center;top:338px;font-size:12px;font-weight:normal;font-style:normal;color:#111;'>40</div><div class='t' style='left:-88.0px;width:400px;text-align:center;top:338px;font-size:12px;font-weight:normal;font-style:normal;color:#111;'>M8</div><div class='t' style='left:-47.0px;width:400px;text-align:center;top:338px;font-size:12px;font-weight:normal;font-style:normal;color:#111;'>18</div><div class='t' style='left:-5.5px;width:400px;text-align:center;top:338px;font-size:12px;font-weight:normal;font-style:normal;color:#111;'>22.5</div><div class='t' style='left:36.0px;width:400px;text-align:center;top:338px;font-size:12px;font-weight:normal;font-style:normal;color:#111;'>6</div><div class='t' style='left:77.0px;width:400px;text-align:center;top:338px;font-size:12px;font-weight:normal;font-style:normal;color:#111;'>30</div><div class='t' style='left:118.0px;width:400px;text-align:center;top:338px;font-size:12px;font-weight:normal;font-style:normal;color:#111;'>5</div><div class='t' style='left:159.0px;width:400px;text-align:center;top:338px;font-size:12px;font-weight:normal;font-style:normal;color:#111;'>5</div><div class='t' style='left:-173.5px;width:400px;text-align:center;top:353px;font-size:12px;font-weight:normal;font-style:normal;color:#111;'>24</div><div class='t' style='left:-129.0px;width:400px;text-align:center;top:353px;font-size:12px;font-weight:normal;font-style:normal;color:#111;'>50</div><div class='t' style='left:-88.0px;width:400px;text-align:center;top:353px;font-size:12px;font-weight:normal;font-style:normal;color:#111;'>M8</div><div class='t' style='left:-47.0px;width:400px;text-align:center;top:353px;font-size:12px;font-weight:normal;font-style:normal;color:#111;'>18</div><div class='t' style='left:-5.5px;width:400px;text-align:center;top:353px;font-size:12px;font-weight:normal;font-style:normal;color:#111;'>27</div><div class='t' style='left:36.0px;width:400px;text-align:center;top:353px;font-size:12px;font-weight:normal;font-style:normal;color:#111;'>8</div><div class='t' style='left:77.0px;width:400px;text-align:center;top:353px;font-size:12px;font-weight:normal;font-style:normal;color:#111;'>40</div><div class='t' style='left:118.0px;width:400px;text-align:center;top:353px;font-size:12px;font-weight:normal;font-style:normal;color:#111;'>5</div><div class='t' style='left:159.0px;width:400px;text-align:center;top:353px;font-size:12px;font-weight:normal;font-style:normal;color:#111;'>5</div><div class='t' style='left:-173.5px;width:400px;text-align:center;top:368px;font-size:12px;font-weight:normal;font-style:normal;color:#111;'>25</div><div class='t' style='left:-129.0px;width:400px;text-align:center;top:368px;font-size:12px;font-weight:normal;font-style:normal;color:#111;'>50</div><div class='t' style='left:-88.0px;width:400px;text-align:center;top:368px;font-size:12px;font-weight:normal;font-style:normal;color:#111;'>M8</div><div class='t' style='left:-47.0px;width:400px;text-align:center;top:368px;font-size:12px;font-weight:normal;font-style:normal;color:#111;'>18</div><div class='t' style='left:-5.5px;width:400px;text-align:center;top:368px;font-size:12px;font-weight:normal;font-style:normal;color:#111;'>28</div><div class='t' style='left:36.0px;width:400px;text-align:center;top:368px;font-size:12px;font-weight:normal;font-style:normal;color:#111;'>8</div><div class='t' style='left:77.0px;width:400px;text-align:center;top:368px;font-size:12px;font-weight:normal;font-style:normal;color:#111;'>40</div><div class='t' style='left:118.0px;width:400px;text-align:center;top:368px;font-size:12px;font-weight:normal;font-style:normal;color:#111;'>5</div><div class='t' style='left:159.0px;width:400px;text-align:center;top:368px;font-size:12px;font-weight:normal;font-style:normal;color:#111;'>5</div><div class='t' style='left:38px;top:416px;font-size:9.2px;font-weight:normal;font-style:normal;color:#111;'>A richiesta / <i>On request</i> / Auf Anfrage / <i>Sur demande</i> / Bajo demanda / <i>Sob consulta</i></div><div class='t' style='left:413.1px;width:20px;text-align:center;top:139.9px;font-size:12px;font-weight:bold;color:#fff'>1</div><div class='t' style='left:394px;width:400px;text-align:center;top:137px;font-size:12.2px;font-weight:bold;font-style:normal;color:#111;'>Albero entrata <span style="font-weight:normal">/</span> <i>Input shaft</i> <span style="font-weight:normal">/</span> Antriebswelle</div><div class='t' style='left:394px;width:400px;text-align:center;top:151px;font-size:12.2px;font-weight:bold;font-style:normal;color:#111;'>Arbre d&lsquo;entrée <span style="font-weight:normal">/</span> <i>Eje de entrada</i> <span style="font-weight:normal">/</span> Eixo de entrada</div><div class='t' style='left:230.0px;width:400px;text-align:center;top:172px;font-size:12px;font-weight:bold;font-style:normal;color:#111;'>D<sub>1</sub></div><div class='t' style='left:277.0px;width:400px;text-align:center;top:172px;font-size:12px;font-weight:bold;font-style:normal;color:#111;'>E<sub>1</sub></div><div class='t' style='left:324.0px;width:400px;text-align:center;top:172px;font-size:12px;font-weight:bold;font-style:normal;color:#111;'>F</div><div class='t' style='left:371.0px;width:400px;text-align:center;top:172px;font-size:12px;font-weight:bold;font-style:normal;color:#111;'>G</div><div class='t' style='left:417.5px;width:400px;text-align:center;top:172px;font-size:12px;font-weight:bold;font-style:normal;color:#111;'>H</div><div class='t' style='left:464.0px;width:400px;text-align:center;top:172px;font-size:12px;font-weight:bold;font-style:normal;color:#111;'>I</div><div class='t' style='left:511.0px;width:400px;text-align:center;top:172px;font-size:12px;font-weight:bold;font-style:normal;color:#111;'>U</div><div class='t' style='left:558.0px;width:400px;text-align:center;top:172px;font-size:12px;font-weight:bold;font-style:normal;color:#111;'>V</div><div class='t' style='left:230.0px;width:400px;text-align:center;top:197px;font-size:12px;font-weight:normal;font-style:italic;color:#111;'>0.75</div><div class='t' style='left:277.0px;width:400px;text-align:center;top:197px;font-size:12px;font-weight:normal;font-style:italic;color:#111;'>1.575</div><div class='t' style='left:324.0px;width:400px;text-align:center;top:197px;font-size:12px;font-weight:normal;font-style:italic;color:#111;'>5/16-18</div><div class='t' style='left:371.0px;width:400px;text-align:center;top:197px;font-size:12px;font-weight:normal;font-style:italic;color:#111;'>0.709</div><div class='t' style='left:417.5px;width:400px;text-align:center;top:197px;font-size:12px;font-weight:normal;font-style:italic;color:#111;'>0.832</div><div class='t' style='left:464.0px;width:400px;text-align:center;top:197px;font-size:12px;font-weight:normal;font-style:italic;color:#111;'>0.187</div><div class='t' style='left:511.0px;width:400px;text-align:center;top:197px;font-size:12px;font-weight:normal;font-style:italic;color:#111;'>1.000</div><div class='t' style='left:558.0px;width:400px;text-align:center;top:197px;font-size:12px;font-weight:normal;font-style:italic;color:#111;'>0.575</div><div class='t' style='left:413.3px;width:20px;text-align:center;top:258.7px;font-size:12px;font-weight:bold;color:#fff'>2</div><div class='t' style='left:394px;width:400px;text-align:center;top:256px;font-size:12.2px;font-weight:bold;font-style:normal;color:#111;'>Albero uscita <span style="font-weight:normal">/</span> <i>Output shaft</i> <span style="font-weight:normal">/</span> Abtriebswelle</div><div class='t' style='left:394px;width:400px;text-align:center;top:270px;font-size:12.2px;font-weight:bold;font-style:normal;color:#111;'>Arbre de sortie <span style="font-weight:normal">/</span> <i>Eje de salida</i> <span style="font-weight:normal">/</span> Eixo de saida</div><div class='t' style='left:230.0px;width:400px;text-align:center;top:290px;font-size:12px;font-weight:bold;font-style:normal;color:#111;'>D<sub>2</sub></div><div class='t' style='left:277.0px;width:400px;text-align:center;top:290px;font-size:12px;font-weight:bold;font-style:normal;color:#111;'>E<sub>2</sub></div><div class='t' style='left:324.0px;width:400px;text-align:center;top:290px;font-size:12px;font-weight:bold;font-style:normal;color:#111;'>F</div><div class='t' style='left:371.0px;width:400px;text-align:center;top:290px;font-size:12px;font-weight:bold;font-style:normal;color:#111;'>G</div><div class='t' style='left:417.5px;width:400px;text-align:center;top:290px;font-size:12px;font-weight:bold;font-style:normal;color:#111;'>H</div><div class='t' style='left:464.0px;width:400px;text-align:center;top:290px;font-size:12px;font-weight:bold;font-style:normal;color:#111;'>I</div><div class='t' style='left:511.0px;width:400px;text-align:center;top:290px;font-size:12px;font-weight:bold;font-style:normal;color:#111;'>U</div><div class='t' style='left:558.0px;width:400px;text-align:center;top:290px;font-size:12px;font-weight:bold;font-style:normal;color:#111;'>V</div><div class='t' style='left:230.0px;width:400px;text-align:center;top:309px;font-size:12px;font-weight:normal;font-style:italic;color:#111;'>0.75</div><div class='t' style='left:277.0px;width:400px;text-align:center;top:309px;font-size:12px;font-weight:normal;font-style:italic;color:#111;'>1.575</div><div class='t' style='left:324.0px;width:400px;text-align:center;top:309px;font-size:12px;font-weight:normal;font-style:italic;color:#111;'>5/16-18</div><div class='t' style='left:371.0px;width:400px;text-align:center;top:309px;font-size:12px;font-weight:normal;font-style:italic;color:#111;'>0.709</div><div class='t' style='left:417.5px;width:400px;text-align:center;top:309px;font-size:12px;font-weight:normal;font-style:italic;color:#111;'>0.832</div><div class='t' style='left:464.0px;width:400px;text-align:center;top:309px;font-size:12px;font-weight:normal;font-style:italic;color:#111;'>0.187</div><div class='t' style='left:511.0px;width:400px;text-align:center;top:309px;font-size:12px;font-weight:normal;font-style:italic;color:#111;'>1.000</div><div class='t' style='left:558.0px;width:400px;text-align:center;top:309px;font-size:12px;font-weight:normal;font-style:italic;color:#111;'>0.575</div><div class='t' style='left:627.8px;width:20px;text-align:center;top:381.4px;font-size:10px;font-weight:bold;color:#fff'>1</div><div class='t' style='left:541.2px;width:20px;text-align:center;top:406.8px;font-size:10px;font-weight:bold;color:#fff'>2</div>
</body></html>
